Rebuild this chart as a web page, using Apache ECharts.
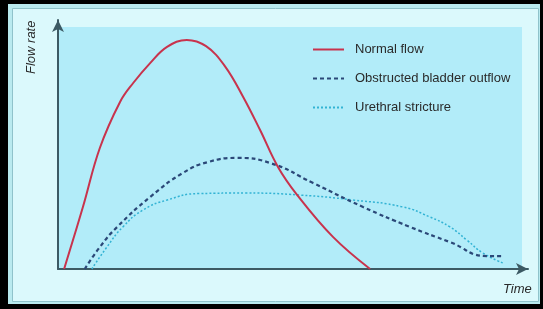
<!DOCTYPE html>
<html>
<head>
<meta charset="utf-8">
<script src="https://cdn.jsdelivr.net/npm/echarts@6/dist/echarts.min.js"></script>
<style>
html,body{margin:0;padding:0;background:#000;}
#c{width:543px;height:309px;}
</style>
</head>
<body>
<div id="c"></div>
<script>
// Data (x = time, y = flow rate; arbitrary units 0-100)
var seriesNames = ['Normal flow', 'Obstructed bladder outflow', 'Urethral stricture'];
var normalFlow = [[1.3,0],[5.3,24.9],[8.9,48.6],[13.2,67.1],[16.0,74.7],[19.6,82.7],[23.2,89.2],[27.4,92.0],[31.5,89.5],[35.5,81.5],[39.4,69.1],[43.0,55.8],[46.8,41.0],[50.9,29.7],[58.5,12.9],[66.4,0]];
var obstructedFlow = [[5.7,0],[8.9,8.8],[12.6,16.9],[19.6,28.9],[26.6,38.6],[32.0,43.0],[38.1,44.6],[45.1,42.6],[54.3,34.5],[64.9,24.9],[74.9,16.9],[83.4,10.8],[91.3,5.2],[94.7,5.2]];
var strictureFlow = [[7.2,0],[10.4,8.8],[13.8,16.9],[18.1,23.7],[23.2,27.7],[30.0,30.3],[40.0,30.5],[51.5,29.7],[62.8,27.7],[73.4,24.9],[79.1,20.9],[83.4,16.9],[87.0,11.6],[90.4,6.4],[94.7,2.4]];
var xAxisName = 'Time';
var yAxisName = 'Flow rate';

var chart = echarts.init(document.getElementById('c'), null, {renderer: 'canvas'});
var font = 'Liberation Sans, Arial, sans-serif';
chart.setOption({
  backgroundColor: '#000',
  animation: false,
  graphic: [
    {type: 'rect', z: -10, shape: {x: 8, y: 4, width: 532, height: 300}, style: {fill: '#b9eaef'}},
    {type: 'rect', z: -9, shape: {x: 12.5, y: 8.5, width: 526, height: 293}, style: {fill: '#dbf9fc', stroke: '#8fc3cb', lineWidth: 1}},
    {type: 'rect', z: -8, shape: {x: 58, y: 27, width: 464, height: 242}, style: {fill: '#b2ecf9'}},
    {type: 'text', z: 10, left: 503, top: 283, style: {text: xAxisName, font: 'italic 13px ' + font, fill: '#2a2a2a'}},
    {type: 'text', z: 10, x: 25, y: 74, rotation: Math.PI / 2, style: {text: yAxisName, font: 'italic 13px ' + font, fill: '#2a2a2a'}}
  ],
  grid: {left: 58, right: 15, top: 20, bottom: 40, containLabel: false},
  legend: {
    orient: 'vertical', left: 307, top: 38,
    itemWidth: 31, itemHeight: 14, itemGap: 16,
    itemStyle: {opacity: 0},
    textStyle: {fontFamily: font, fontSize: 13, color: '#2a2a2a', padding: [0, 0, 0, 6]},
    data: seriesNames
  },
  xAxis: {
    type: 'value', min: 0, max: 100,
    axisLine: {show: true, symbol: ['none', 'arrow'], symbolSize: [9, 12], lineStyle: {color: '#3c5a64', width: 2}},
    axisTick: {show: false}, axisLabel: {show: false}, splitLine: {show: false}
  },
  yAxis: {
    type: 'value', min: 0, max: 100,
    axisLine: {show: true, symbol: ['none', 'arrow'], symbolSize: [9, 12], lineStyle: {color: '#3c5a64', width: 2}},
    axisTick: {show: false}, axisLabel: {show: false}, splitLine: {show: false}
  },
  series: [
    {name: seriesNames[0], type: 'line', data: normalFlow, smooth: 0.4, symbol: 'none', z: 5,
     lineStyle: {color: '#c8334d', width: 2}, itemStyle: {color: '#c8334d'}},
    {name: seriesNames[1], type: 'line', data: obstructedFlow, smooth: 0.5, symbol: 'none', z: 4,
     lineStyle: {color: '#2b4878', width: 2.2, type: [4, 3]}, itemStyle: {color: '#2b4878'}},
    {name: seriesNames[2], type: 'line', data: strictureFlow, smooth: 0.5, symbol: 'none', z: 3,
     lineStyle: {color: '#33b3d4', width: 1.5, type: [2, 2]}, itemStyle: {color: '#33b3d4'}}
  ]
});
</script>
</body>
</html>
